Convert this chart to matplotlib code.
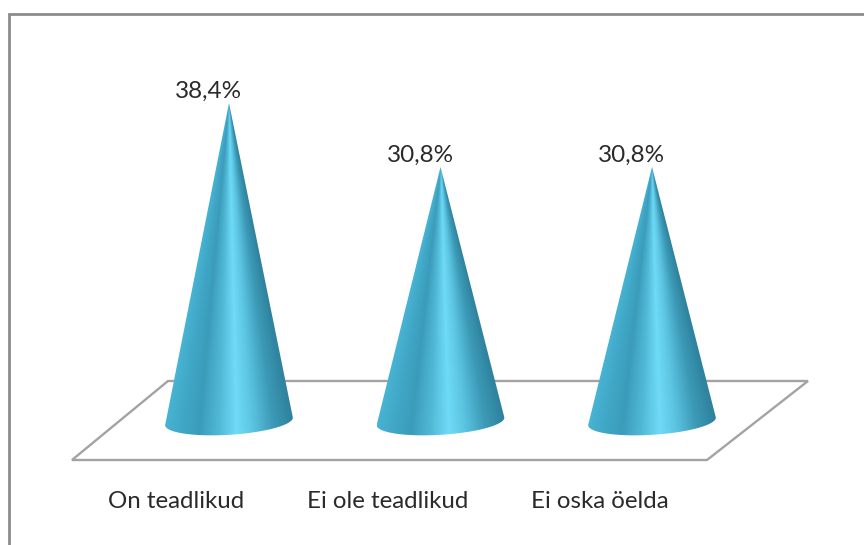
import numpy as np
import matplotlib
matplotlib.use("Agg")
import matplotlib.pyplot as plt
from matplotlib.colors import LinearSegmentedColormap
from matplotlib.path import Path
from matplotlib.patches import PathPatch, Polygon

categories = ["On teadlikud", "Ei ole teadlikud", "Ei oska öelda"]
values = [38.4, 30.8, 30.8]
labels = ["38,4%", "30,8%", "30,8%"]

W, H = 864, 545
fig = plt.figure(figsize=(W / 100, H / 100), dpi=100)
ax = fig.add_axes([0, 0, 1, 1])
ax.axis("off")

# one category = 211.5 px, one percent = 8.41 px
ax.set_xlim(-229 / 211.5, (W - 229) / 211.5)
ax.set_ylim(-(H - 426) / 8.41, 426 / 8.41)

# pixel helper for the decoration (frame, floor)
def px(x, y):
    return (x / W, 1 - y / H)

grey = "#8c8c8c"
ax.plot(*zip(px(9, H), px(9, 13.5), px(W, 13.5)), transform=ax.transAxes, color=grey, lw=2, solid_joinstyle="miter")
floor = Polygon([px(72, 460), px(707, 460), px(808, 381), px(168, 381)], closed=True, transform=ax.transAxes,
                fill=False, edgecolor="#a3a3a3", lw=1.7, joinstyle="miter")
ax.add_patch(floor)

cmap = LinearSegmentedColormap.from_list("cone", [
    (0.0, "#48b3d2"), (0.12, "#41a8c8"), (0.27, "#3b9cba"), (0.42, "#50b8d6"),
    (0.56, "#6fdbf8"), (0.68, "#5cc5e2"), (0.85, "#3c9ab7"), (1.0, "#2f839e"),
])

half_w = 0.302   # base half width in category units
tilt = 0.45      # base ellipse tilt, in percent
depth = 1.6      # base ellipse depth, in percent
lift = 0.55      # ellipse centre above the zero line

# text offsets from each cone, in points
label_dx = [-15, -14.5, -14.5]
cat_dx = [-38, -38, -37.5]

for i, v in enumerate(values):
    t = np.linspace(0, np.pi, 60)
    ex = i + half_w * np.cos(t)
    ey = lift + tilt * np.cos(t) - depth * np.sin(t)
    verts = [(i, v)] + list(zip(ex, ey)) + [(i, v)]
    codes = [Path.MOVETO] + [Path.LINETO] * (len(verts) - 2) + [Path.CLOSEPOLY]
    clip = PathPatch(Path(verts, codes), facecolor="none", edgecolor="none")
    ax.add_patch(clip)

    # shading runs round the cone, so it narrows to the tip
    xs = np.linspace(i - half_w, i + half_w, 260)
    ys = np.linspace(-2, v, 500)
    xx, yy = np.meshgrid(xs, ys)
    frac = np.clip((v - yy) / v, 1e-3, 1.1)
    u = np.clip((xx - i) / (half_w * frac) * 0.5 + 0.5, 0, 1)
    im = ax.imshow(u, extent=[xs[0], xs[-1], ys[0], ys[-1]], origin="lower", cmap=cmap, vmin=0, vmax=1,
                   aspect="auto", zorder=3, interpolation="bilinear")
    im.set_clip_path(clip)

    ax.annotate(labels[i], (i, v), xytext=(label_dx[i], 1), textcoords="offset points", ha="center", va="bottom",
                fontsize=17.5, family="Lato", color="#2a2a2a", zorder=4)
    ax.annotate(categories[i], (i, 0), xytext=(cat_dx[i], -54), textcoords="offset points",
                ha="center", va="center", fontsize=17.3, family="Lato", color="#2a2a2a")

ax.set_xlim(-229 / 211.5, (W - 229) / 211.5)
ax.set_ylim(-(H - 426) / 8.41, 426 / 8.41)
fig.savefig("out.png", dpi=100)
